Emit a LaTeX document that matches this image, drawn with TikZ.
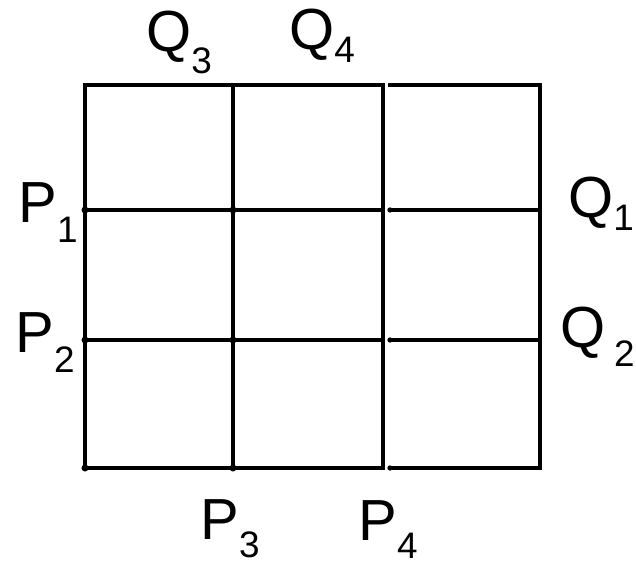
\documentclass[tikz,border=0pt]{standalone}
\usepackage{fontspec}
\setmainfont{Liberation Sans}
\newcommand{\gridlabel}[3]{#1\raisebox{-#3}{\fontsize{21}{21}\selectfont #2}}

\begin{document}
\begin{tikzpicture}[x=0.02cm, y=-0.02cm,
    gridline/.style={draw, line width=1.8pt, line cap=rect},
    joint/.style={fill, circle, inner sep=0pt, minimum size=4pt},
    tag/.style={anchor=base west, inner sep=0pt, font=\fontsize{33}{36}\selectfont}
]
\useasboundingbox (0,0) rectangle (636,563);

% corners and crossings of the grid
\coordinate (tl) at (85,85);
\coordinate (tm) at (233,85);
\coordinate (tr) at (383,85);
\coordinate (bl) at (85,468);
\coordinate (bm) at (233,468);
\coordinate (br) at (383,468);
\coordinate (l1) at (85,210);
\coordinate (l2) at (85,340);
\coordinate (r1) at (383,210);
\coordinate (r2) at (383,340);
\coordinate (m1) at (233,210);
\coordinate (m2) at (233,340);
\coordinate (etl) at (390,85);
\coordinate (etr) at (540,85);
\coordinate (ebl) at (390,468);
\coordinate (ebr) at (540,468);
\coordinate (e1) at (390,210);
\coordinate (e2) at (390,340);
\coordinate (f1) at (540,210);
\coordinate (f2) at (540,340);

% left block
\draw[gridline] (tl) rectangle (br);
\draw[gridline] (tm) -- (bm);
\draw[gridline] (l1) -- (r1);
\draw[gridline] (l2) -- (r2);

% right block
\draw[gridline] (etl) -- (etr) -- (ebr) -- (ebl);
\draw[gridline] (e1) -- (f1);
\draw[gridline] (e2) -- (f2);

\foreach \p in {l1,l2,m1,m2,bm,bl}
    \node[joint] at (\p) {};
\foreach \p in {e1,e2,ebl}
    \node[joint, minimum size=3pt] at (\p) {};

% labels
\node[tag] (q3) at (146,52) {\gridlabel{Q}{3}{12pt}};
\node[tag] (q4) at (289,50) {\gridlabel{Q}{4}{7.4pt}};
\node[tag] (p1) at (18,223) {\gridlabel{P}{1}{11pt}};
\node[tag] (p2) at (15,353) {\gridlabel{P}{2}{11pt}};
\node[tag] (q1) at (568,218) {\gridlabel{Q}{1}{7pt}};
\node[tag] (q2) at (560,348) {\gridlabel{Q}{\hspace{5pt}2}{10.5pt}};
\node[tag] (p3) at (200,540) {\gridlabel{P}{3}{10pt}};
\node[tag] (p4) at (358,541) {\gridlabel{P}{4}{10pt}};

\end{tikzpicture}
\end{document}
